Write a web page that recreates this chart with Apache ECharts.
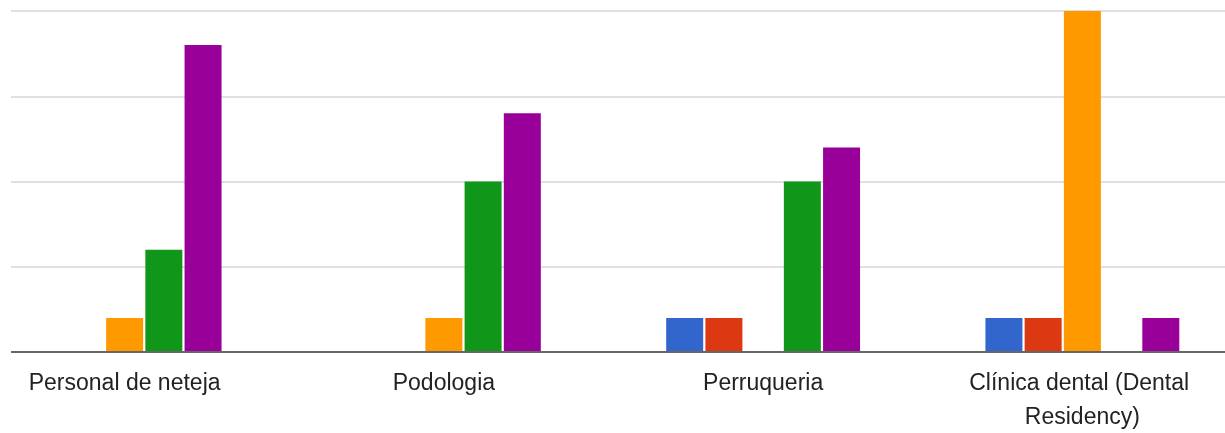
<!DOCTYPE html>
<html>
<head>
<meta charset="utf-8">
<script src="https://cdn.jsdelivr.net/npm/echarts@6/dist/echarts.min.js"></script>
<style>
html,body{margin:0;padding:0;background:#fff;overflow:hidden;width:1225px;height:433px;position:relative;}
#chart{width:1277px;height:433px;position:absolute;left:-35px;top:0;}
</style>
</head>
<body>
<div id="chart"></div>
<script>
const categories = ['Personal de neteja', 'Podologia', 'Perruqueria', 'Clínica dental (Dental Residency)'];
const seriesNames = ['Serie 1', 'Serie 2', 'Serie 3', 'Serie 4', 'Serie 5'];
const blueValues = [0, 0, 1, 1];
const redValues = [0, 0, 1, 1];
const orangeValues = [1, 1, 0, 10];
const greenValues = [3, 5, 5, 0];
const purpleValues = [9, 7, 6, 1];
const colors = ['#3366cc', '#dc3912', '#ff9900', '#109618', '#990099'];
const allValues = [blueValues, redValues, orangeValues, greenValues, purpleValues];

const chart = echarts.init(document.getElementById('chart'), null, {renderer: 'canvas'});
const series = allValues.map((vals, i) => ({
  name: seriesNames[i],
  type: 'bar',
  xAxisIndex: 1,
  yAxisIndex: 1,
  data: vals,
  barWidth: 37,
  barGap: '6%',
  itemStyle: {color: colors[i]},
  silent: true
}));
chart.setOption({
  animation: false,
  grid: [
    {left: 46, right: 17, top: 11, bottom: 81, containLabel: false, outerBoundsMode: 'none'},
    {left: 0, right: 0, top: 11, bottom: 81, containLabel: false, outerBoundsMode: 'none'}
  ],
  xAxis: [
    {type: 'category', gridIndex: 0, data: categories, show: false},
    {
      type: 'category', gridIndex: 1, data: categories,
      axisTick: {show: false},
      axisLine: {show: false},
      axisLabel: {
        interval: 0, margin: 15, fontSize: 23, lineHeight: 34,
        fontFamily: 'Liberation Sans, Arial, sans-serif', color: '#222',
        width: 300, overflow: 'break'
      }
    }
  ],
  yAxis: [
    {
      type: 'value', gridIndex: 0, min: 0, max: 10, interval: 2.5,
      axisLabel: {show: false}, axisTick: {show: false},
      axisLine: {show: false},
      splitLine: {show: true, lineStyle: {color: '#e0e0e0', width: 2}}
    },
    {
      type: 'value', gridIndex: 1, min: 0, max: 10, interval: 2.5,
      axisLabel: {show: false}, axisTick: {show: false},
      axisLine: {show: false}, splitLine: {show: false}
    }
  ],
  series: series.concat([{
    type: 'line', xAxisIndex: 0, yAxisIndex: 0, data: [],
    silent: true,
    markLine: {
      silent: true, symbol: 'none', label: {show: false},
      lineStyle: {color: '#666', width: 2, type: 'solid'},
      data: [{yAxis: 0}]
    }
  }])
});
</script>
</body>
</html>
